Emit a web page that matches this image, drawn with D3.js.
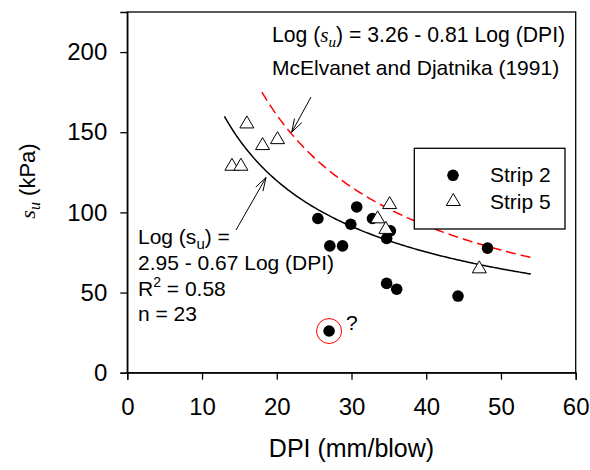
<!DOCTYPE html>
<html><head><meta charset="utf-8">
<script src="https://cdn.jsdelivr.net/npm/d3@7"></script>
<style>
html,body{margin:0;padding:0;background:#fff;}
svg{display:block;}
text{font-family:"Liberation Sans",Arial,sans-serif;fill:#000;}
</style></head>
<body>
<script>
// ---- data ----
const strip2X = [25.5, 27.1, 28.8, 29.9, 30.7, 32.8, 35.2, 34.7, 34.7, 36.05, 44.25, 48.2, 27.0];
const strip2Y = [96.2, 79.1, 79.1, 92.6, 103.4, 96.2, 88.5, 83.7, 55.7, 52.1, 47.8, 77.7, 26.0];
const strip5X = [16.0, 20.1, 18.1, 14.0, 15.2, 35.1, 33.5, 34.6, 47.1];
const strip5Y = [155.8, 146.0, 142.3, 129.4, 129.4, 105.5, 96.6, 90.0, 65.4];
const questionedPoint = [27.0, 26.0];
// regression equations printed on the chart: log(su) = a - b log(DPI)
const fitCoef = [2.95, 0.67], fitRange = [13, 54];
const mcCoef = [3.26, 0.81], mcRange = [18, 54];
const xTicks = [0, 10, 20, 30, 40, 50, 60];
const yTicks = [0, 50, 100, 150, 200];
const legendLabels = ["Strip 2", "Strip 5"];

const W = 590, H = 470;
const m = {left: 127.3, top: 12, right: 590 - 575.7, bottom: 470 - 372.7};
const svg = d3.select("body").append("svg").attr("width", W).attr("height", H);
const x = d3.scaleLinear().domain([0, 60]).range([m.left, W - m.right]);
const y = d3.scaleLinear().domain([0, 225]).range([H - m.bottom, m.top]);

// frame
svg.append("rect").attr("x", x(0)).attr("y", y(225)).attr("width", x(60) - x(0)).attr("height", y(0) - y(225))
  .attr("fill", "none").attr("stroke", "#000").attr("stroke-width", 1.3);

const xAxis = svg.append("g").attr("transform", `translate(0,${y(0)})`)
  .call(d3.axisBottom(x).tickValues(xTicks).tickSize(7).tickPadding(18).tickFormat(d3.format("d")));
const yAxis = svg.append("g").attr("transform", `translate(${x(0)},0)`)
  .call(d3.axisLeft(y).tickValues(yTicks).tickSize(7).tickPadding(13).tickFormat(d3.format("d")));
[xAxis, yAxis].forEach(g => {
  g.select(".domain").attr("stroke-width", 1.3);
  g.selectAll(".tick line").attr("stroke-width", 1.3);
  g.selectAll(".tick text").attr("font-size", 24).attr("font-family", "Liberation Sans, Arial, sans-serif");
});

// axis titles
svg.append("text").attr("x", (x(0) + x(60)) / 2).attr("y", 457).attr("text-anchor", "middle")
  .attr("font-size", 25).text("DPI (mm/blow)");
const yt = svg.append("text").attr("transform", `translate(35,181) rotate(-90)`).attr("text-anchor", "middle")
  .attr("font-size", 22);
yt.append("tspan").attr("font-family", "Liberation Serif, Times New Roman, serif").attr("font-style", "italic").text("s");
yt.append("tspan").attr("font-family", "Liberation Serif, Times New Roman, serif").attr("font-style", "italic")
  .attr("font-size", 16).attr("dy", 5).text("u");
yt.append("tspan").attr("dy", -5).text(" (kPa)");

// curves
function curve(coef, range) {
  const pts = d3.range(range[0], range[1] + 0.001, 0.25).map(d => [d, Math.pow(10, coef[0] - coef[1] * Math.log10(d))]);
  return d3.line().x(d => x(d[0])).y(d => y(d[1]))(pts);
}
svg.append("path").attr("d", curve(fitCoef, fitRange)).attr("fill", "none").attr("stroke", "#000").attr("stroke-width", 1.5);
svg.append("path").attr("d", curve(mcCoef, mcRange)).attr("fill", "none").attr("stroke", "#ff0000")
  .attr("stroke-width", 1.5).attr("stroke-dasharray", "10,5");

// points
const tri = "M0,-7L7,5L-7,5Z";
svg.append("g").selectAll("circle").data(strip2X).join("circle")
  .attr("cx", d => x(d)).attr("cy", (d, i) => y(strip2Y[i])).attr("r", 5.8).attr("fill", "#000");
svg.append("g").selectAll("path").data(strip5X).join("path")
  .attr("d", tri).attr("transform", (d, i) => `translate(${x(d)},${y(strip5Y[i])})`)
  .attr("fill", "#fff").attr("stroke", "#000").attr("stroke-width", 1);

// questioned point
svg.append("circle").attr("cx", x(questionedPoint[0])).attr("cy", y(questionedPoint[1])).attr("r", 12.5)
  .attr("fill", "none").attr("stroke", "#ff0000").attr("stroke-width", 1);
svg.append("text").attr("x", x(questionedPoint[0]) + 17).attr("y", y(questionedPoint[1]) - 1).attr("font-size", 21).text("?");

// arrows
function arrow(x1, y1, x2, y2) {
  const g = svg.append("g").attr("stroke", "#000").attr("stroke-width", 1).attr("fill", "none");
  g.append("line").attr("x1", x1).attr("y1", y1).attr("x2", x2).attr("y2", y2);
  const a = Math.atan2(y2 - y1, x2 - x1), L = 14, s = 0.3;
  [a + Math.PI - s, a + Math.PI + s].forEach(t => {
    g.append("line").attr("x1", x2).attr("y1", y2).attr("x2", x2 + L * Math.cos(t)).attr("y2", y2 + L * Math.sin(t));
  });
}
arrow(311, 97, 291.7, 132.3);
arrow(236, 230, 266, 177.5);

// equation texts
const t1 = svg.append("text").attr("x", 272).attr("y", 42).attr("font-size", 21.2);
t1.append("tspan").text("Log (");
t1.append("tspan").attr("font-family", "Liberation Serif, Times New Roman, serif").attr("font-style", "italic").text("s");
t1.append("tspan").attr("font-family", "Liberation Serif, Times New Roman, serif").attr("font-style", "italic")
  .attr("font-size", 15).attr("dy", 5).text("u");
t1.append("tspan").attr("dy", -5).text(") = 3.26 - 0.81 Log (DPI)");
svg.append("text").attr("x", 272).attr("y", 75).attr("font-size", 21).text("McElvanet and Djatnika (1991)");

const t2 = svg.append("text").attr("x", 138).attr("y", 244).attr("font-size", 21);
t2.append("tspan").text("Log (s");
t2.append("tspan").attr("font-size", 15).attr("dy", 5).text("u");
t2.append("tspan").attr("dy", -5).text(") =");
svg.append("text").attr("x", 138).attr("y", 270).attr("font-size", 21).text("2.95 - 0.67 Log (DPI)");
const t3 = svg.append("text").attr("x", 138).attr("y", 296).attr("font-size", 21);
t3.append("tspan").text("R");
t3.append("tspan").attr("font-size", 14).attr("dy", -9).text("2");
t3.append("tspan").attr("dy", 9).text(" = 0.58");
svg.append("text").attr("x", 138).attr("y", 321).attr("font-size", 21).text("n = 23");

// legend
svg.append("rect").attr("x", 414.3).attr("y", 148.3).attr("width", 150.7).attr("height", 80.7)
  .attr("fill", "#fff").attr("stroke", "#000").attr("stroke-width", 1.3);
svg.append("circle").attr("cx", 453).attr("cy", 175.3).attr("r", 5.8).attr("fill", "#000");
svg.append("path").attr("d", tri).attr("transform", "translate(453.3,200.5)").attr("fill", "#fff").attr("stroke", "#000");
legendLabels.forEach((l, i) => {
  svg.append("text").attr("x", 490).attr("y", 182 + i * 26.5).attr("font-size", 21).text(l);
});
</script>
</body></html>
